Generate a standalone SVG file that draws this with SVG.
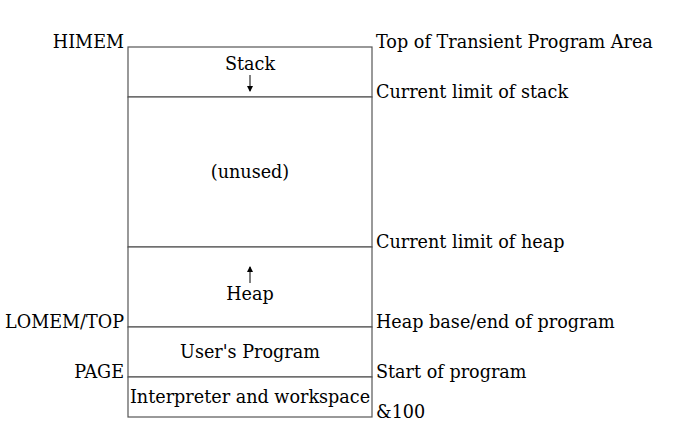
<svg xmlns="http://www.w3.org/2000/svg" width="677" height="439" viewBox="0 0 677 439">
<style>
text{font-family:"DejaVu Serif",serif;font-size:17.6px;fill:#000}
.c{text-anchor:middle}
.r{text-anchor:end}
.box{fill:#fff;stroke:#555;stroke-width:1.2}
.arr{stroke:#000;stroke-width:1;fill:none}
</style>
<defs>
<marker id="ah" viewBox="0 0 6 6" refX="5" refY="3" markerWidth="6" markerHeight="6" orient="auto" markerUnits="userSpaceOnUse"><path d="M0,0 L6,3 L0,6 z" fill="#000"/></marker>
</defs>
<rect width="677" height="439" fill="#fff"/>
<g id="stack"><rect class="box" x="128" y="47" width="244" height="50"/><text class="c" x="250" y="70">Stack</text></g>
<g id="unused"><rect class="box" x="128" y="97" width="244" height="150"/><text class="c" x="250" y="178">(unused)</text></g>
<g id="heap"><rect class="box" x="128" y="247" width="244" height="80"/><text class="c" x="250" y="300">Heap</text></g>
<g id="program"><rect class="box" x="128" y="327" width="244" height="50"/><text class="c" x="250" y="358">User's Program</text></g>
<g id="interp"><rect class="box" x="128" y="377" width="244" height="40"/><text class="c" x="250" y="403">Interpreter and workspace</text></g>
<g id="connectors">
<line class="arr" x1="250" y1="75" x2="250" y2="91" marker-end="url(#ah)"/>
<line class="arr" x1="250" y1="283" x2="250" y2="267" marker-end="url(#ah)"/>
</g>
<g id="labels">
<text class="r" x="124" y="48">HIMEM</text>
<text class="r" x="124" y="328">LOMEM/TOP</text>
<text class="r" x="124" y="378">PAGE</text>
<text x="376" y="48">Top of Transient Program Area</text>
<text x="376" y="98">Current limit of stack</text>
<text x="376" y="248">Current limit of heap</text>
<text x="376" y="328">Heap base/end of program</text>
<text x="376" y="378">Start of program</text>
<text x="376" y="418">&amp;100</text>
</g>
</svg>
